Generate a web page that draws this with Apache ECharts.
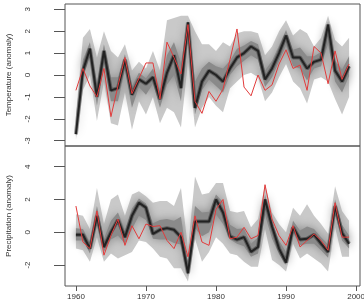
<!DOCTYPE html>
<html>
<head>
<meta charset="utf-8">
<script src="https://cdn.jsdelivr.net/npm/echarts@6/dist/echarts.min.js"></script>
<style>
  html, body { margin: 0; padding: 0; background: #fff; }
  #chart { width: 364px; height: 306px; }
</style>
</head>
<body>
<div id="chart"></div>
<script>
var years = [1960,1961,1962,1963,1964,1965,1966,1967,1968,1969,
             1970,1971,1972,1973,1974,1975,1976,1977,1978,1979,
             1980,1981,1982,1983,1984,1985,1986,1987,1988,1989,
             1990,1991,1992,1993,1994,1995,1996,1997,1998,1999];
var xTicks = [1960, 1970, 1980, 1990, 2000];
var tempTicks = [-3, -2, -1, 0, 1, 2, 3];
var precTicks = [-2, 0, 2, 4];

// temperature fan: median, outer band, inner band, observed
var tempMed = [-2.7,0.2,1.2,-1.0,1.1,-0.7,-0.6,0.7,-0.9,-0.2,-0.4,-0.1,-1.1,0.1,0.9,-0.6,2.4,-1.5,-0.3,0.2,
               0.0,-0.3,0.3,0.8,1.0,1.3,1.1,-0.2,0.3,1.0,1.8,0.8,0.8,0.3,0.6,0.7,2.3,0.2,-0.3,0.4];
var tempUp  = [-1.8,1.7,2.1,0.8,2.0,1.1,0.8,1.4,0.2,0.6,0.3,1.1,0.2,2.5,2.6,2.7,2.7,2.0,1.4,1.4,
               1.1,1.5,1.3,1.9,2.0,2.0,1.9,0.9,1.3,2.0,2.5,1.8,2.1,1.9,1.3,1.7,2.7,1.6,1.3,1.7];
var tempLo  = [-2.95,-0.7,0.0,-2.1,-0.3,-2.2,-2.3,-0.8,-2.5,-1.2,-1.8,-1.0,-2.2,-1.5,-1.7,-2.4,0.6,-2.4,-1.5,-1.0,
               -1.4,-1.7,-0.6,-0.3,0.0,0.1,-0.1,-1.2,-0.8,-0.1,0.5,-0.3,-0.6,-1.3,-0.2,-0.1,-0.3,-1.1,-1.8,-1.0];
var tempInUp = [-2.4,0.7,1.5,-0.4,1.4,-0.1,-0.1,0.95,-0.5,0.1,-0.15,0.3,-0.65,0.9,1.5,0.55,2.5,-0.3,0.3,0.6,
                0.4,0.3,0.65,1.2,1.35,1.55,1.4,0.2,0.65,1.35,2.05,1.15,1.25,0.85,0.85,1.05,2.45,0.65,0.25,0.85];
var tempInLo = [-2.8,-0.1,0.8,-1.4,0.6,-1.2,-1.2,0.2,-1.5,-0.55,-0.9,-0.4,-1.5,-0.45,0.0,-1.2,1.8,-1.8,-0.7,-0.2,
                -0.5,-0.8,0.0,0.4,0.65,0.9,0.7,-0.55,-0.1,0.6,1.35,0.4,0.3,-0.25,0.3,0.4,1.4,-0.3,-0.8,-0.05];
var tempObs = [-0.7,0.3,-0.5,-1.0,0.3,-1.9,-0.5,0.8,-0.85,-0.15,0.55,0.55,-1.1,1.5,0.8,0.05,2.3,-1.2,-1.75,-0.75,
               -1.2,-0.65,0.7,2.1,-0.55,-0.95,0.0,-0.7,-0.45,0.5,1.15,0.3,0.45,-0.7,1.3,1.0,-0.4,1.1,-0.2,0.5];

// precipitation fan
var precMed = [-0.15,-0.15,-1.0,1.0,-0.9,0.0,0.75,-0.3,1.0,1.8,1.5,-0.1,0.15,0.25,0.15,-0.3,-2.5,0.65,0.65,0.65,
               2.0,1.2,-0.25,-0.45,-0.3,-1.2,-0.9,2.0,0.35,-1.0,-1.85,0.3,-0.45,-0.4,-0.15,-0.7,-1.2,1.6,-0.05,-0.7];
var precUp  = [1.1,1.0,0.2,2.7,0.5,2.0,2.3,1.0,2.3,2.5,2.2,1.8,1.9,1.9,1.6,2.7,-1.0,3.4,2.3,2.4,
               3.0,3.0,1.3,1.2,1.3,0.3,0.8,2.9,1.2,0.5,0.0,1.5,1.0,1.7,1.0,0.5,-0.1,2.8,1.3,0.7];
var precLo  = [-1.0,-1.1,-1.8,-0.3,-1.8,-1.3,-1.6,-1.4,-1.2,-0.5,-0.6,-1.0,-1.5,-1.6,-2.2,-2.2,-3.0,-0.4,-1.8,-1.2,
               -0.3,-0.7,-1.3,-1.4,-1.8,-2.1,-2.1,0.2,-1.7,-2.0,-2.4,-0.7,-1.6,-1.3,-1.6,-1.9,-2.4,0.3,-1.5,-1.5];
var precInUp = [0.25,0.2,-0.6,1.6,-0.4,0.7,1.2,0.15,1.45,2.05,1.75,0.55,0.75,0.8,0.7,0.95,-2.0,1.6,1.2,1.25,
                2.3,1.85,0.45,0.2,0.25,-0.7,-0.3,2.3,0.6,-0.5,-1.2,0.7,0.1,0.35,0.2,-0.3,-0.75,2.0,0.45,-0.2];
var precInLo = [-0.5,-0.5,-1.3,0.55,-1.2,-0.45,-0.2,-0.7,0.2,1.0,0.75,-0.4,-0.45,-0.45,-0.65,-0.75,-2.7,0.25,-0.25,0.0,
                1.1,0.5,-0.45,-0.7,-0.85,-1.5,-1.3,1.05,-0.4,-1.35,-2.0,-0.05,-0.8,-0.7,-0.7,-1.1,-1.55,1.15,-0.5,-1.0];
var precObs = [1.6,-0.6,-1.0,1.3,-1.4,-0.2,0.8,-0.8,0.4,-0.4,0.5,0.35,0.4,-0.5,-1.0,0.0,-1.5,1.0,-0.6,-0.8,
               1.4,2.0,-0.4,-0.3,0.3,-0.4,-0.2,2.9,0.8,-0.2,-0.8,0.4,-0.9,-0.5,-0.1,-0.5,-1.1,1.8,-0.3,-0.3];

var FONT = "'Liberation Sans', Arial, Helvetica, sans-serif";

function pairs(arr) {
    return years.map(function (y, i) { return [y, arr[i]]; });
}

function band(idx, up, lo, color, blur) {
    return {
        type: 'custom', xAxisIndex: idx, yAxisIndex: idx, silent: true, clip: true,
        data: [[1980, 0]],
        renderItem: function (params, api) {
            var pts = [];
            for (var i = 0; i < years.length; i++) pts.push(api.coord([years[i], up[i]]));
            for (var j = years.length - 1; j >= 0; j--) pts.push(api.coord([years[j], lo[j]]));
            return {
                type: 'polygon', shape: { points: pts },
                style: { fill: color, shadowBlur: blur || 0, shadowColor: color }
            };
        }
    };
}

function line(idx, arr, color, width) {
    return {
        type: 'line', xAxisIndex: idx, yAxisIndex: idx, data: pairs(arr),
        showSymbol: false, silent: true, animation: false,
        lineStyle: { color: color, width: width }
    };
}

function xAxis(idx, showLabels) {
    return {
        type: 'value', gridIndex: idx, min: 1958.44, max: 2000.56, show: showLabels,
        splitLine: { show: false }, axisLine: { show: false, onZero: false },
        axisTick: { show: showLabels, length: 5, customValues: xTicks, lineStyle: { color: '#555' } },
        axisLabel: {
            show: showLabels, customValues: xTicks, margin: 7, fontSize: 8, color: '#333', fontFamily: FONT,
            formatter: function (v) { return String(v); }
        }
    };
}

function yAxis(idx, min, max, ticks, name) {
    return {
        type: 'value', gridIndex: idx, min: min, max: max,
        name: name, nameLocation: 'middle', nameGap: 52,
        nameTextStyle: { fontSize: 8, color: '#333', fontFamily: FONT },
        splitLine: { show: false }, axisLine: { show: false, onZero: false },
        axisTick: { length: 11, customValues: ticks, lineStyle: { color: '#555' } },
        axisLabel: { customValues: ticks, rotate: 90, margin: 33, fontSize: 8, color: '#333', fontFamily: FONT }
    };
}

var chart = echarts.init(document.getElementById('chart'), null, { renderer: 'canvas' });
chart.setOption({
    animation: false,
    backgroundColor: '#fff',
    grid: [
        { left: 65, top: 4, width: 295, height: 142, show: true, borderColor: '#555', borderWidth: 1,
          containLabel: false, outerBoundsMode: 'none' },
        { left: 65, top: 146, width: 295, height: 140, show: true, borderColor: '#555', borderWidth: 1,
          containLabel: false, outerBoundsMode: 'none' }
    ],
    xAxis: [xAxis(0, false), xAxis(1, true)],
    yAxis: [
        yAxis(0, -3.24, 3.24, tempTicks, 'Temperature (anomaly)'),
        yAxis(1, -3.28, 5.26, precTicks, 'Precipitation (anomaly)')
    ],
    series: [
        band(0, tempUp, tempLo, '#c9c9c9', 0),
        band(0, tempInUp, tempInLo, '#8a8a8a', 10),
        line(0, tempMed, 'rgba(40,40,40,0.45)', 4),
        line(0, tempMed, '#222222', 2),
        line(0, tempObs, '#e23b3b', 1),
        band(1, precUp, precLo, '#c9c9c9', 0),
        band(1, precInUp, precInLo, '#8a8a8a', 10),
        line(1, precMed, 'rgba(40,40,40,0.45)', 4),
        line(1, precMed, '#222222', 2),
        line(1, precObs, '#e23b3b', 1)
    ]
});
</script>
</body>
</html>
